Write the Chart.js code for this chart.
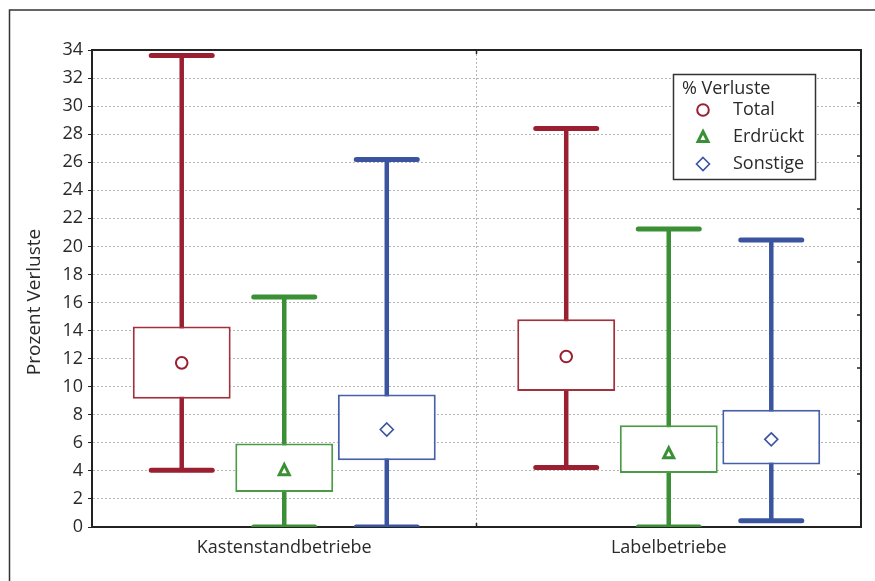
<!DOCTYPE html>
<html>
<head>
<meta charset="utf-8">
<script src="https://cdn.jsdelivr.net/npm/chart.js@4"></script>
<style>
  html, body { margin: 0; padding: 0; background: #ffffff; }
  #wrap { width: 875px; height: 581px; position: relative; }
</style>
</head>
<body>
<div id="wrap"><canvas id="chart"></canvas></div>
<script>
// Loss percentages per farm type: whisker ends, box limits and mean
const categories = ['Kastenstandbetriebe', 'Labelbetriebe'];
const seriesNames = ['Total', 'Erdrückt', 'Sonstige'];
const yTicks = [0, 2, 4, 6, 8, 10, 12, 14, 16, 18, 20, 22, 24, 26, 28, 30, 32, 34];

const totalMin  = [4.05, 4.25];
const totalLow  = [9.15, 9.7];
const totalMean = [11.7, 12.15];
const totalHigh = [14.3, 14.8];
const totalMax  = [33.6, 28.4];

const erdruecktMin  = [0, 0];
const erdruecktLow  = [2.5, 3.85];
const erdruecktMean = [4.05, 5.25];
const erdruecktHigh = [5.95, 7.25];
const erdruecktMax  = [16.4, 21.25];

const sonstigeMin  = [0, 0.45];
const sonstigeLow  = [4.75, 4.45];
const sonstigeMean = [6.95, 6.25];
const sonstigeHigh = [9.45, 8.35];
const sonstigeMax  = [26.2, 20.45];

const FONT = "'Open Sans', 'Noto Sans', sans-serif";
const TEXT = '#2a2a2a';
const AXIS = '#222222';

const series = [
  { name: seriesNames[0], color: '#9a1f30', box: '#a3303d', marker: 'circle',
    min: totalMin, low: totalLow, mean: totalMean, high: totalHigh, max: totalMax },
  { name: seriesNames[1], color: '#3b8f35', box: '#4c9a45', marker: 'triangle',
    min: erdruecktMin, low: erdruecktLow, mean: erdruecktMean, high: erdruecktHigh, max: erdruecktMax },
  { name: seriesNames[2], color: '#3a54a0', box: '#4660aa', marker: 'diamond',
    min: sonstigeMin, low: sonstigeLow, mean: sonstigeMean, high: sonstigeHigh, max: sonstigeMax }
];

function drawMarker(ctx, type, x, y, color) {
  ctx.save();
  ctx.strokeStyle = color;
  ctx.fillStyle = '#ffffff';
  ctx.beginPath();
  if (type === 'circle') {
    ctx.lineWidth = 2;
    ctx.arc(x, y, 5.8, 0, Math.PI * 2);
  } else if (type === 'triangle') {
    ctx.lineWidth = 3;
    ctx.lineJoin = 'miter';
    ctx.moveTo(x, y - 5.5);
    ctx.lineTo(x + 5, y + 4.5);
    ctx.lineTo(x - 5, y + 4.5);
    ctx.closePath();
  } else {
    ctx.lineWidth = 1.6;
    ctx.moveTo(x, y - 6.5);
    ctx.lineTo(x + 6.5, y);
    ctx.lineTo(x, y + 6.5);
    ctx.lineTo(x - 6.5, y);
    ctx.closePath();
  }
  ctx.fill();
  ctx.stroke();
  ctx.restore();
}

const boxPlotExtras = {
  id: 'boxPlotExtras',
  beforeDatasetsDraw(chart) {
    // whiskers with caps, drawn beneath the white boxes
    const { ctx, chartArea: a, scales: { y } } = chart;
    ctx.save();
    ctx.beginPath();
    ctx.rect(a.left, a.top, a.right - a.left, a.bottom - a.top);
    ctx.clip();
    series.forEach((s, i) => {
      const meta = chart.getDatasetMeta(i);
      meta.data.forEach((el, j) => {
        const x = el.x;
        const yMin = y.getPixelForValue(s.min[j]);
        const yMax = y.getPixelForValue(s.max[j]);
        ctx.strokeStyle = s.color;
        ctx.lineCap = 'butt';
        ctx.lineWidth = 4.5;
        ctx.beginPath();
        ctx.moveTo(x, yMin);
        ctx.lineTo(x, yMax);
        ctx.stroke();
        ctx.lineCap = 'round';
        ctx.lineWidth = 5;
        ctx.beginPath();
        ctx.moveTo(x - 30.5, yMin); ctx.lineTo(x + 30.5, yMin);
        ctx.moveTo(x - 30.5, yMax); ctx.lineTo(x + 30.5, yMax);
        ctx.stroke();
      });
    });
    ctx.restore();
  },
  afterDatasetsDraw(chart) {
    const { ctx, scales: { y } } = chart;
    series.forEach((s, i) => {
      const meta = chart.getDatasetMeta(i);
      meta.data.forEach((el, j) => {
        drawMarker(ctx, s.marker, el.x, y.getPixelForValue(s.mean[j]), s.color);
      });
    });
  },
  afterDraw(chart) {
    const { ctx, chartArea: a, scales: { x } } = chart;
    ctx.save();
    // outer frame
    ctx.strokeStyle = '#333333';
    ctx.lineWidth = 1.5;
    ctx.beginPath();
    ctx.moveTo(9.5, chart.height + 2);
    ctx.lineTo(9.5, 10);
    ctx.lineTo(chart.width + 2, 10);
    ctx.stroke();
    // top and right plot borders
    ctx.strokeStyle = AXIS;
    ctx.lineWidth = 2;
    ctx.beginPath();
    ctx.moveTo(a.left - 1, a.top);
    ctx.lineTo(a.right, a.top);
    ctx.lineTo(a.right, a.bottom + 1);
    ctx.stroke();
    // inward ticks on the right edge
    ctx.lineWidth = 1.5;
    ctx.beginPath();
    for (let k = 1; k < 9; k++) {
      const ty = a.top + (a.bottom - a.top) * k / 9;
      ctx.moveTo(a.right, ty);
      ctx.lineTo(a.right - 4, ty);
    }
    // ticks at the category boundary, top and bottom
    const mid = (x.getPixelForValue(0) + x.getPixelForValue(1)) / 2;
    ctx.moveTo(mid, a.top); ctx.lineTo(mid, a.top + 4);
    ctx.moveTo(mid, a.bottom); ctx.lineTo(mid, a.bottom - 4);
    ctx.stroke();

    // vertical axis title
    ctx.save();
    ctx.translate(35, 302);
    ctx.rotate(-Math.PI / 2);
    ctx.fillStyle = TEXT;
    ctx.font = '19px ' + FONT;
    ctx.textAlign = 'center';
    ctx.textBaseline = 'middle';
    ctx.fillText('Prozent Verluste', 0, 0);
    ctx.restore();

    // legend box
    const lx = 673, ly = 74, lw = 142, lh = 105;
    ctx.fillStyle = '#ffffff';
    ctx.fillRect(lx, ly, lw, lh);
    ctx.strokeStyle = '#333333';
    ctx.lineWidth = 1.5;
    ctx.strokeRect(lx + 0.5, ly + 0.5, lw, lh);
    ctx.fillStyle = TEXT;
    ctx.font = '18px ' + FONT;
    ctx.textBaseline = 'middle';
    ctx.textAlign = 'left';
    ctx.fillText('% Verluste', lx + 9, ly + 15);
    series.forEach((s, i) => {
      const ry = ly + 36 + i * 27;
      drawMarker(ctx, s.marker, lx + 30, ry, s.color);
      ctx.fillStyle = TEXT;
      ctx.fillText(s.name, lx + 60, ry);
    });
    ctx.restore();
  }
};

new Chart(document.getElementById('chart'), {
  type: 'bar',
  data: {
    labels: categories,
    datasets: series.map(s => ({
      label: s.name,
      data: categories.map((c, j) => [s.low[j], s.high[j]]),
      backgroundColor: '#ffffff',
      borderColor: s.box,
      borderWidth: 2,
      borderSkipped: false,
      categoryPercentage: 0.80,
      barPercentage: 0.955
    }))
  },
  options: {
    responsive: true,
    maintainAspectRatio: false,
    animation: false,
    layout: { padding: { left: 0, top: 50, right: 14, bottom: 0 } },
    plugins: {
      legend: { display: false },
      tooltip: { enabled: false }
    },
    scales: {
      x: {
        offset: true,
        grid: {
          offset: true,
          drawTicks: false,
          color: '#b5b5b5',
          lineWidth: 1
        },
        border: { display: true, color: AXIS, width: 2, dash: [2, 2] },
        ticks: { color: TEXT, font: { family: FONT, size: 18 }, padding: 10 },
        afterFit(scale) { scale.height = 54; }
      },
      y: {
        min: 0,
        max: 34,
        afterBuildTicks(scale) { scale.ticks = yTicks.map(v => ({ value: v })); },
        grid: {
          color: '#b5b5b5',
          lineWidth: 1,
          drawTicks: true,
          tickLength: 4,
          tickColor: AXIS
        },
        border: { display: true, color: AXIS, width: 2, dash: [2, 2] },
        ticks: { color: TEXT, font: { family: FONT, size: 18 }, padding: 5 },
        afterFit(scale) { scale.width = 92; }
      }
    }
  },
  plugins: [boxPlotExtras]
});
</script>
</body>
</html>
